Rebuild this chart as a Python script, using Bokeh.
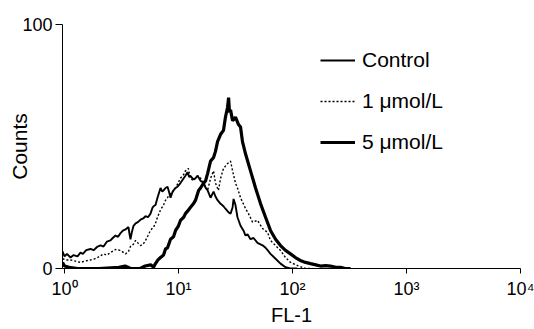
from bokeh.plotting import figure
from bokeh.models import (FixedTicker, CustomJSTickFormatter, Legend, LegendItem, Range1d)
from bokeh.embed import file_html
from bokeh.resources import INLINE

# ---- data (FL-1 value, counts) ----
control_fl = [0.96, 1.0, 1.05, 1.13, 1.2, 1.3, 1.38, 1.45, 1.55, 1.69, 1.8, 1.95, 2.07, 2.2, 2.35,
              2.53, 2.65, 2.8, 2.95, 3.1, 3.25, 3.43, 3.64, 3.72, 3.79, 3.9, 4.03, 4.2, 4.4, 4.64,
              4.9, 5.14, 5.4, 5.68, 5.92, 6.04, 6.28, 6.54, 6.95, 7.2, 7.39, 7.69, 8.01, 8.3, 8.51,
              8.8, 9.04, 9.42, 9.8, 10.4, 11.1, 11.5, 12.0, 12.4, 12.7, 13.5, 14.1, 14.7, 15.6,
              16.6, 17.3, 18.0, 19.1, 20.3, 21.1, 22.0, 23.4, 24.8, 25.8, 27.5, 28.6, 29.8, 30.4,
              31.6, 32.9, 35.0, 37.2, 38.7, 40.3, 42.8, 45.5, 49.3, 54.6, 58.0, 60.4, 64.1, 71.0,
              78.5, 86.8, 96.0, 110.0]
control_ct = [7, 5, 6, 4.5, 5.5, 5, 6.5, 6, 7.5, 8, 7.5, 9, 9.5, 9, 11,
              11.5, 12.5, 13.5, 13, 14.5, 15.5, 16, 17, 14, 12, 15, 17.5, 18.5, 19, 20,
              20.5, 21.5, 21, 22.5, 25, 25.5, 26, 29, 33, 31.5, 32, 33, 33.5, 31, 29,
              31, 32, 33, 33.5, 35, 37, 38, 39.5, 37.5, 38, 36.5, 37, 38, 36,
              35, 33, 32, 29, 31.5, 29.5, 28, 26.5, 25.5, 24.5, 23, 22.5, 25, 28.5,
              26, 21, 17.5, 15.5, 13.5, 14, 12, 12.5, 10.5, 9.5, 8.5, 7.5, 6, 4,
              2, 0.5, 0, 0]

low_fl = [0.96, 1.05, 1.13, 1.25, 1.38, 1.5, 1.69, 1.85, 1.95, 2.2, 2.35, 2.53, 2.8, 3.1, 3.43,
          3.64, 3.79, 4.03, 4.2, 4.4, 4.64, 4.9, 5.14, 5.4, 5.68, 6.04, 6.28, 6.54, 6.95, 7.39,
          7.69, 8.01, 8.51, 9.04, 9.42, 10.4, 11.1, 11.5, 12.2, 12.7, 13.5, 14.7, 15.6, 16.6,
          18.0, 19.1, 20.3, 21.1, 22.4, 23.4, 24.8, 26.9, 28.6, 29.8, 31.6, 32.9, 35.0, 38.7,
          41.1, 44.6, 49.3, 54.6, 60.4, 64.1, 71.0, 78.5, 86.8, 96.0, 111.0, 130.0, 150.0]
low_ct = [4, 3.5, 3.5, 3, 2.5, 3, 3.5, 4, 4.5, 6, 5.5, 6.5, 7.8, 7.4, 6,
          7, 9, 10, 11.5, 10.5, 9.4, 10, 11.5, 13.5, 15.6, 17, 18.5, 21, 24, 26,
          28, 29, 31, 32, 33, 37, 38.5, 40, 41, 37, 36, 38, 37, 35,
          32, 37, 40, 35, 32, 37, 41, 43, 44, 40, 35, 33, 29, 24.6,
          22.5, 19, 19.7, 16.4, 14.8, 11.5, 9.4, 7.4, 4.5, 2.5, 1.2, 0, 0]

high_fl = [0.96, 1.0, 1.1, 1.3, 2.0, 3.0, 3.4, 3.8, 4.6, 5.1, 5.7, 6.04, 6.28, 6.6, 6.95, 7.39,
           7.69, 8.01, 8.51, 9.04, 9.42, 10.0, 10.4, 11.1, 11.5, 12.0, 12.7, 13.5, 14.1, 15.0,
           15.6, 16.6, 17.3, 18.0, 19.1, 20.3, 21.1, 22.0, 23.4, 24.8, 25.8, 26.9, 27.5, 28.0,
           28.6, 29.8, 30.4, 31.6, 33.6, 35.0, 36.4, 38.7, 42.8, 47.4, 52.4, 58.0, 64.1, 71.0,
           78.5, 86.8, 96.0, 106.0, 117.0, 130.0, 144.0, 160.0, 176.0, 195.0, 215.0, 240.0,
           264.0, 290.0, 323.0]
high_ct = [2.5, 1, 0.5, 0, 0, 0.5, 1, 0, 0, 1, 1.5, 0.5, 2, 3.5, 4.5, 5.5,
           8, 8.5, 12, 13, 15.6, 17.5, 19.7, 21, 22.5, 23.5, 25, 26.5, 28, 32,
           33, 35, 36, 39, 44, 45.5, 48, 52, 55, 56.6, 62, 66, 70, 64,
           65, 60.6, 61, 62, 59, 58, 52, 47, 40, 33, 26.6, 21, 15.6, 12,
           9.4, 7.4, 6, 4.5, 3.3, 2.5, 2, 1.5, 1, 1.2, 1, 0.5,
           0.5, 0, 0]

series_names = ["Control", "1 \u03bcmol/L", "5 \u03bcmol/L"]
x_ticks = [1, 10, 100, 1000, 10000]
y_ticks = [0, 100]
x_title = "FL-1"
y_title = "Counts"

FONT = "Liberation Sans"

p = figure(width=534, height=329, x_axis_type="log",
           x_range=Range1d(0.96, 10000), y_range=Range1d(0, 100),
           output_backend="svg", toolbar_location=None,
           min_border_left=62, min_border_right=14, min_border_top=24, min_border_bottom=61)
p.outline_line_color = None
p.xgrid.grid_line_color = None
p.ygrid.grid_line_color = None
p.background_fill_color = "white"
p.border_fill_color = "white"

r_ctrl = p.line(control_fl, control_ct, line_color="black", line_width=1.9)
r_low = p.line(low_fl, low_ct, line_color="black", line_width=1.4, line_dash="2 2")
r_high = p.line(high_fl, high_ct, line_color="black", line_width=3.2)

# x axis
xa = p.xaxis[0]
xa.ticker = FixedTicker(ticks=x_ticks, minor_ticks=[])
xa.formatter = CustomJSTickFormatter(code="""
const sup = {"0":"\u2070","1":"\u00b9","2":"\u00b2","3":"\u00b3","4":"\u2074"};
const e = Math.round(Math.log10(tick));
return "10" + sup[String(e)];
""")
xa.major_tick_out = 5
xa.major_tick_in = 0
xa.major_label_standoff = 5
xa.major_label_text_font = FONT
xa.major_label_text_font_size = "18px"
xa.major_label_text_color = "black"
xa.axis_line_color = "black"
xa.major_tick_line_color = "black"
xa.axis_label = x_title
xa.axis_label_standoff = 2
xa.axis_label_text_font = FONT
xa.axis_label_text_font_size = "20px"
xa.axis_label_text_font_style = "normal"
xa.axis_label_text_color = "black"

# y axis
ya = p.yaxis[0]
ya.ticker = FixedTicker(ticks=y_ticks, minor_ticks=[])
ya.major_tick_out = 7
ya.major_tick_in = 0
ya.major_label_standoff = 3
ya.major_label_text_font = FONT
ya.major_label_text_font_size = "18px"
ya.major_label_text_color = "black"
ya.axis_line_color = "black"
ya.major_tick_line_color = "black"
ya.axis_label = y_title
ya.axis_label_standoff = -12
ya.axis_label_text_font = FONT
ya.axis_label_text_font_size = "21px"
ya.axis_label_text_font_style = "normal"
ya.axis_label_text_color = "black"

legend = Legend(items=[LegendItem(label=series_names[0], renderers=[r_ctrl]),
                       LegendItem(label=series_names[1], renderers=[r_low]),
                       LegendItem(label=series_names[2], renderers=[r_high])],
                location=(258, 114), orientation="vertical")
legend.border_line_color = None
legend.background_fill_alpha = 0
legend.padding = 0
legend.margin = 0
legend.spacing = 17
legend.glyph_width = 35
legend.glyph_height = 20
legend.label_height = 20
legend.label_standoff = 7
legend.label_text_font = FONT
legend.label_text_font_size = "21px"
legend.label_text_color = "black"
p.add_layout(legend, "center")

open("out.html", "w").write(file_html(p, INLINE))
